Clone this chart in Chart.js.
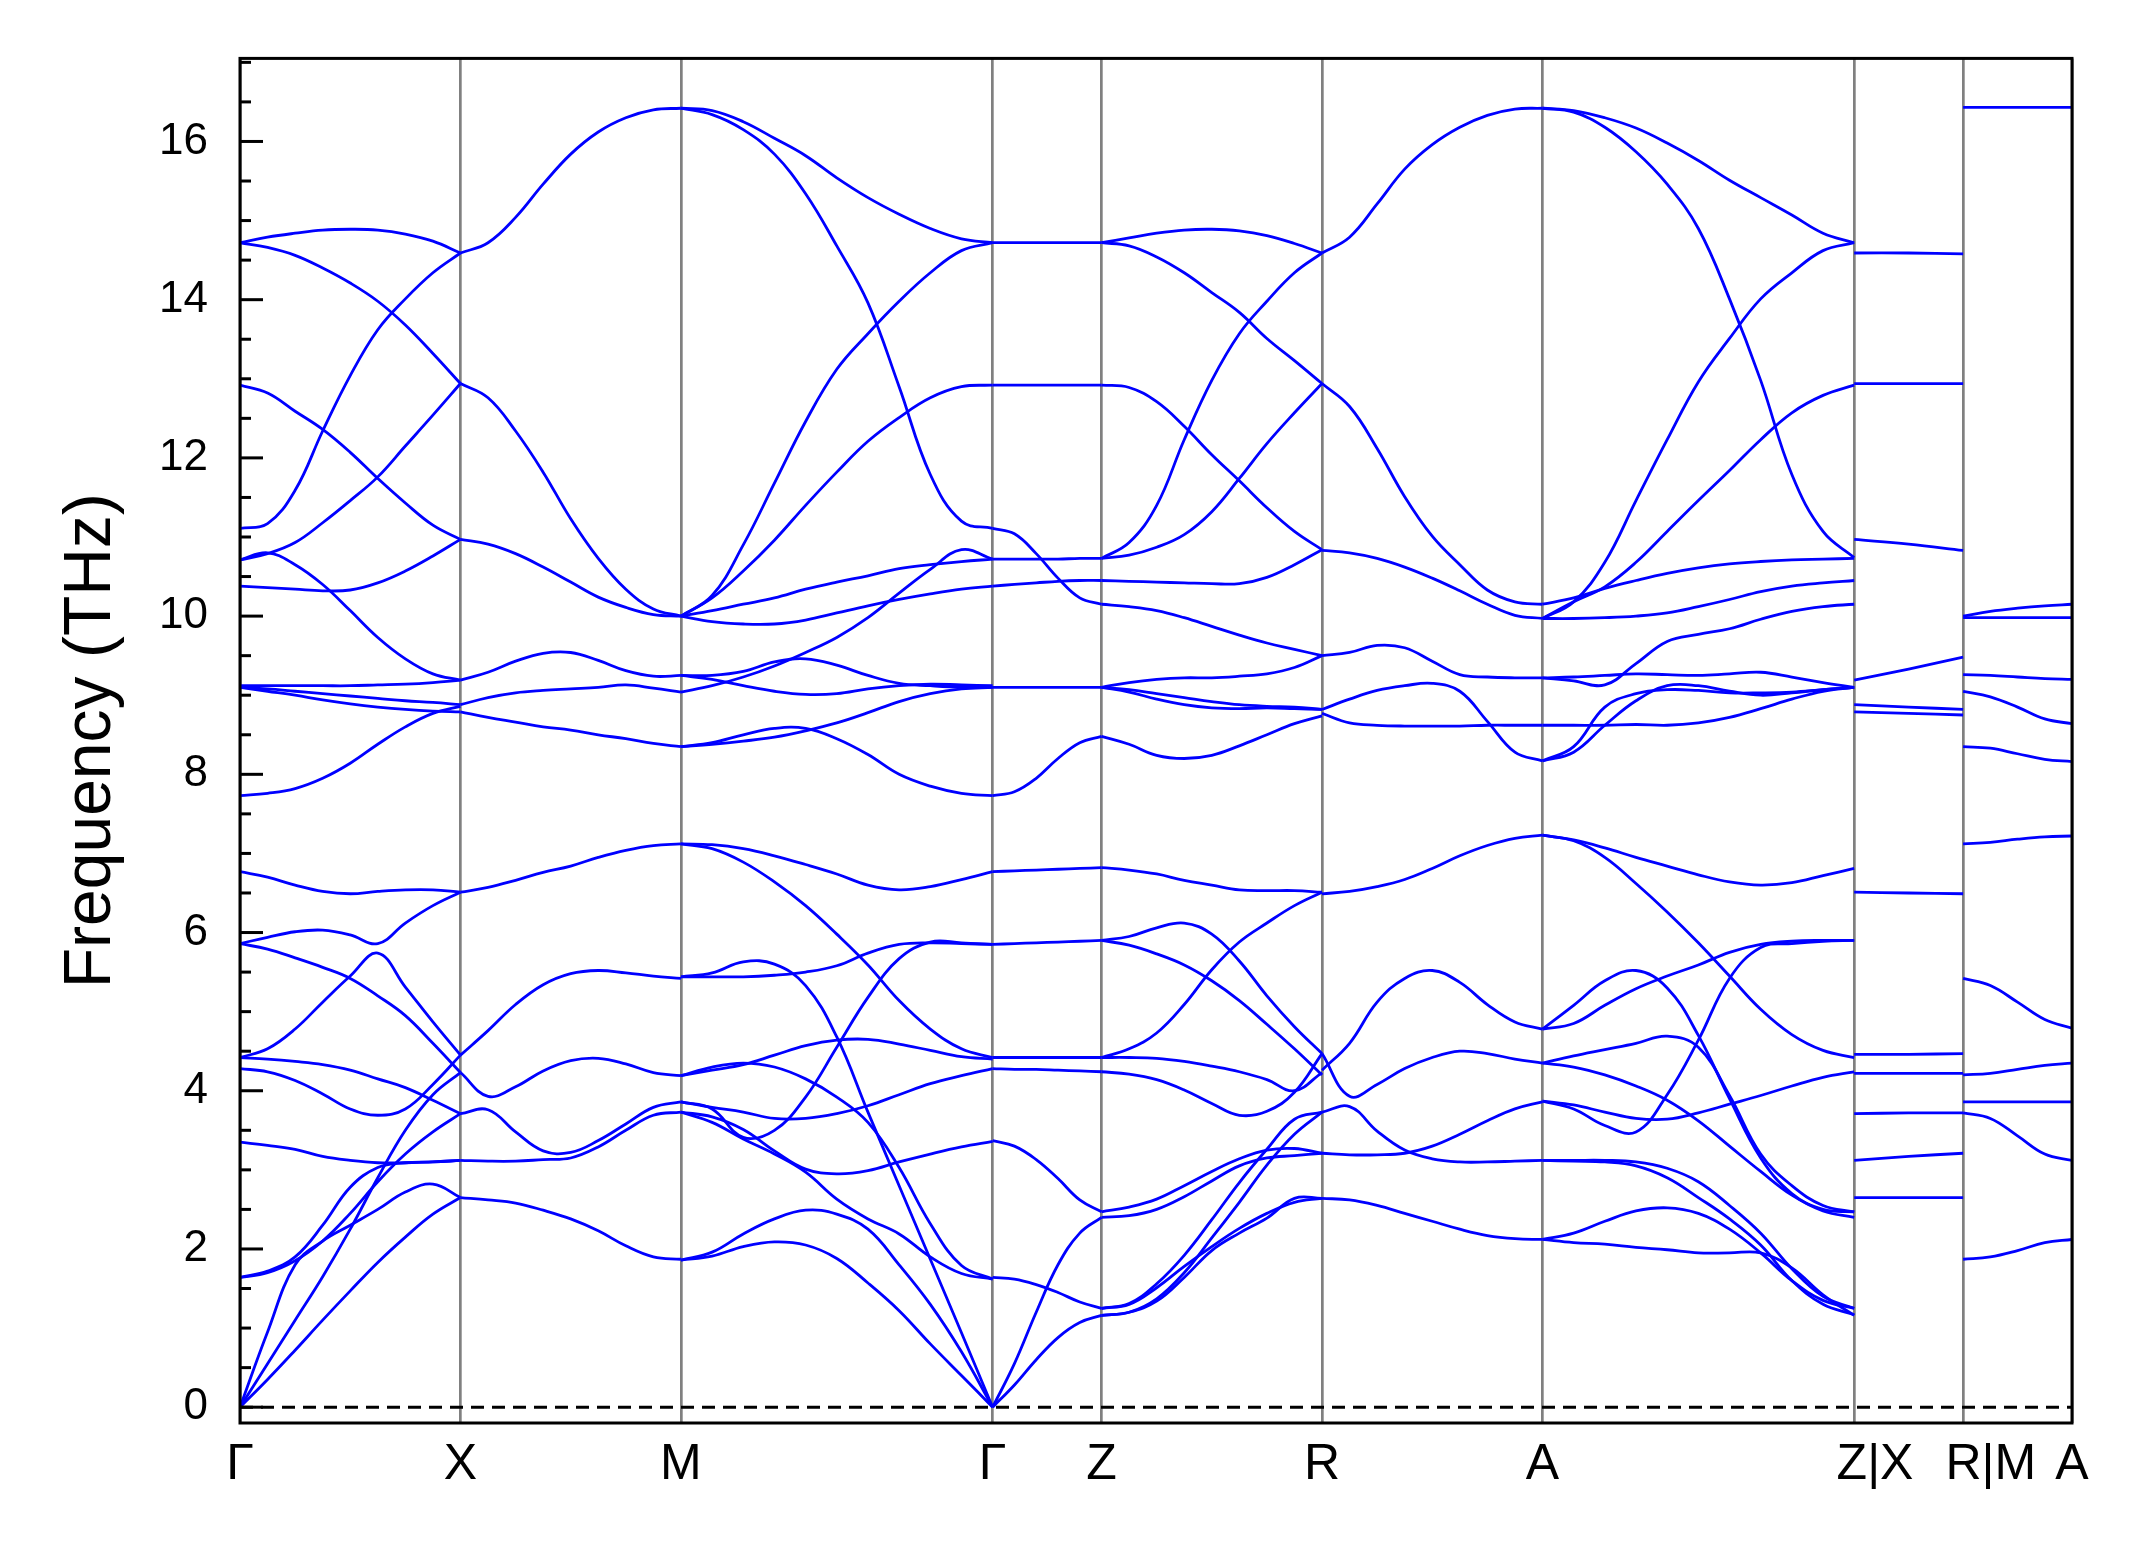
<!DOCTYPE html>
<html lang="en">
<head>
<meta charset="UTF-8">
<title>Phonon band structure</title>
<script src="https://cdn.jsdelivr.net/npm/chart.js"></script>
<style>
  body { margin: 0; background: #fff; }
  canvas { display: block; }
</style>
</head>
<body>
<canvas id="bands" width="2145" height="1549"></canvas>
<script>
// high-symmetry points along the k-path (path length units)
const kLabels = ['Γ', 'X', 'M', 'Γ', 'Z', 'R', 'A', 'Z|X', 'R|M', 'A'];
const kTicks = [0, 1, 2, 3.414, 3.908, 4.908, 5.908, 7.322, 7.816, 8.310];
const kLabelIndent = [0, 0, 0, 0, 0, 0, 0, 3, 4, 0]; // the joined labels sit right of their line
const yLabels = [0, 2, 4, 6, 8, 10, 12, 14, 16];

// frequencies (THz) read along each segment, evenly spaced samples
const bandsGX = [
  [14.72, 14.79, 14.84, 14.88, 14.89, 14.88, 14.83, 14.74, 14.59],
  [14.72, 14.66, 14.56, 14.40, 14.21, 13.98, 13.68, 13.32, 12.94],
  [11.11, 11.17, 11.59, 12.34, 13.04, 13.62, 14.01, 14.34, 14.59],
  [12.92, 12.82, 12.59, 12.36, 12.07, 11.74, 11.43, 11.15, 10.97],
  [10.71, 10.79, 10.93, 11.18, 11.46, 11.76, 12.15, 12.54, 12.94],
  [10.71, 10.80, 10.65, 10.40, 10.07, 9.73, 9.46, 9.27, 9.19],
  [10.38, 10.36, 10.34, 10.32, 10.33, 10.42, 10.57, 10.76, 10.97],
  [9.12, 9.12, 9.12, 9.12, 9.12, 9.13, 9.14, 9.16, 9.19],
  [9.10, 9.08, 9.05, 9.02, 8.99, 8.96, 8.93, 8.91, 8.88],
  [9.10, 9.05, 9.00, 8.94, 8.89, 8.85, 8.82, 8.80, 8.79],
  [7.73, 7.76, 7.82, 7.95, 8.14, 8.38, 8.60, 8.77, 8.86],
  [6.77, 6.70, 6.60, 6.52, 6.49, 6.52, 6.54, 6.54, 6.51],
  [5.86, 5.94, 6.01, 6.03, 5.97, 5.86, 6.12, 6.34, 6.51],
  [4.42, 4.53, 4.78, 5.12, 5.45, 5.74, 5.31, 4.87, 4.45],
  [5.86, 5.79, 5.68, 5.56, 5.42, 5.20, 4.95, 4.60, 4.23],
  [4.42, 4.40, 4.37, 4.33, 4.26, 4.15, 4.04, 3.88, 3.71],
  [4.28, 4.24, 4.13, 3.96, 3.77, 3.69, 3.77, 4.08, 4.45],
  [3.35, 3.31, 3.26, 3.17, 3.12, 3.09, 3.09, 3.10, 3.12],
  [0, 0.95, 1.80, 2.10, 2.30, 2.50, 2.72, 2.82, 2.65],
  [0, 0.35, 0.72, 1.10, 1.47, 1.83, 2.15, 2.44, 2.65],
  [0, 0.55, 1.10, 1.65, 2.25, 2.90, 3.50, 3.95, 4.23],
  [1.64, 1.72, 1.90, 2.30, 2.78, 3.03, 3.09, 3.10, 3.12],
  [1.64, 1.70, 1.85, 2.10, 2.45, 2.85, 3.20, 3.48, 3.71]
];

const bandsXM = [
  [14.59, 14.72, 15.04, 15.46, 15.84, 16.12, 16.30, 16.40, 16.42],
  [12.94, 12.76, 12.34, 11.82, 11.23, 10.73, 10.34, 10.09, 10.00],
  [10.97, 10.91, 10.79, 10.62, 10.43, 10.24, 10.11, 10.02, 10.00],
  [9.19, 9.29, 9.43, 9.53, 9.54, 9.44, 9.31, 9.24, 9.25],
  [8.88, 8.97, 9.03, 9.06, 9.08, 9.10, 9.13, 9.09, 9.04],
  [8.79, 8.72, 8.66, 8.60, 8.56, 8.50, 8.45, 8.39, 8.35],
  [6.51, 6.57, 6.66, 6.76, 6.84, 6.95, 7.04, 7.10, 7.12],
  [4.45, 4.76, 5.09, 5.34, 5.48, 5.52, 5.49, 5.45, 5.42],
  [4.23, 3.93, 4.05, 4.25, 4.38, 4.41, 4.34, 4.23, 4.19],
  [3.71, 3.76, 3.48, 3.24, 3.22, 3.37, 3.58, 3.79, 3.86],
  [3.12, 3.11, 3.11, 3.13, 3.15, 3.29, 3.50, 3.69, 3.73],
  [2.65, 2.62, 2.58, 2.49, 2.38, 2.23, 2.04, 1.90, 1.87]
];

const bandsMG = [
  [16.42, 16.39, 16.25, 16.04, 15.82, 15.54, 15.29, 15.08, 14.90, 14.77, 14.72],
  [16.42, 16.34, 16.15, 15.84, 15.34, 14.68, 13.96, 12.90, 11.79, 11.20, 11.11],
  [10.00, 10.26, 10.90, 11.68, 12.46, 13.12, 13.57, 13.98, 14.34, 14.62, 14.72],
  [10.00, 10.23, 10.57, 10.96, 11.40, 11.82, 12.21, 12.51, 12.76, 12.90, 12.92],
  [10.00, 10.07, 10.15, 10.23, 10.34, 10.43, 10.51, 10.60, 10.65, 10.69, 10.72],
  [10.00, 9.93, 9.90, 9.90, 9.95, 10.04, 10.13, 10.21, 10.28, 10.34, 10.38],
  [9.25, 9.25, 9.30, 9.42, 9.46, 9.38, 9.25, 9.15, 9.12, 9.10, 9.10],
  [9.25, 9.20, 9.12, 9.05, 9.01, 9.02, 9.08, 9.12, 9.14, 9.13, 9.12],
  [9.04, 9.12, 9.23, 9.37, 9.54, 9.73, 9.98, 10.29, 10.59, 10.84, 10.72],
  [8.35, 8.40, 8.50, 8.58, 8.58, 8.45, 8.25, 8.00, 7.85, 7.76, 7.73],
  [8.35, 8.38, 8.42, 8.47, 8.55, 8.65, 8.78, 8.92, 9.02, 9.08, 9.10],
  [7.12, 7.11, 7.06, 6.97, 6.86, 6.74, 6.60, 6.54, 6.58, 6.67, 6.77],
  [7.12, 7.06, 6.89, 6.64, 6.34, 5.98, 5.59, 5.14, 4.78, 4.53, 4.42],
  [5.44, 5.49, 5.63, 5.60, 5.33, 4.68, 3.73, 2.80, 1.87, 0.94, 0],
  [5.44, 5.44, 5.44, 5.46, 5.50, 5.58, 5.74, 5.85, 5.87, 5.86, 5.85],
  [4.19, 4.26, 4.33, 4.45, 4.57, 4.64, 4.65, 4.59, 4.51, 4.43, 4.40],
  [4.19, 4.30, 4.35, 4.30, 4.15, 3.92, 3.60, 3.03, 2.32, 1.79, 1.62],
  [3.73, 3.67, 3.51, 3.24, 3.01, 2.95, 2.99, 3.10, 3.20, 3.29, 3.36],
  [3.86, 3.79, 3.73, 3.65, 3.65, 3.71, 3.81, 3.95, 4.09, 4.19, 4.28],
  [3.86, 3.77, 3.41, 3.50, 3.92, 4.55, 5.18, 5.67, 5.88, 5.87, 5.85],
  [1.86, 1.96, 2.19, 2.38, 2.49, 2.44, 2.25, 1.80, 1.30, 0.70, 0],
  [1.86, 1.91, 2.03, 2.09, 2.05, 1.88, 1.57, 1.22, 0.80, 0.40, 0],
  [3.73, 3.60, 3.39, 3.20, 2.97, 2.63, 2.38, 2.19, 1.90, 1.69, 1.62]
];

const bandsGZ = [
  [14.72, 14.72, 14.72, 14.72, 14.72, 14.72],
  [12.92, 12.92, 12.92, 12.92, 12.92, 12.92],
  [11.11, 11.04, 10.79, 10.48, 10.23, 10.15],
  [10.72, 10.72, 10.72, 10.72, 10.73, 10.73],
  [10.38, 10.40, 10.42, 10.44, 10.45, 10.45],
  [9.10, 9.10, 9.10, 9.10, 9.10, 9.10],
  [7.73, 7.78, 7.95, 8.20, 8.40, 8.48],
  [6.77, 6.78, 6.79, 6.80, 6.81, 6.82],
  [5.85, 5.86, 5.87, 5.88, 5.89, 5.90],
  [4.42, 4.42, 4.42, 4.42, 4.42, 4.42],
  [4.28, 4.27, 4.27, 4.26, 4.25, 4.24],
  [3.37, 3.30, 3.13, 2.89, 2.62, 2.47],
  [1.64, 1.62, 1.55, 1.45, 1.33, 1.25],
  [0, 0.55, 1.20, 1.80, 2.20, 2.40],
  [0, 0.28, 0.60, 0.88, 1.07, 1.16]
];

const bandsZR = [
  [14.72, 14.78, 14.84, 14.88, 14.89, 14.87, 14.81, 14.71, 14.59],
  [14.72, 14.68, 14.54, 14.34, 14.09, 13.84, 13.51, 13.23, 12.94],
  [10.73, 10.93, 11.40, 12.23, 12.98, 13.57, 13.98, 14.34, 14.59],
  [12.92, 12.89, 12.71, 12.40, 12.04, 11.71, 11.37, 11.07, 10.84],
  [10.73, 10.77, 10.87, 11.03, 11.32, 11.74, 12.18, 12.57, 12.94],
  [10.45, 10.44, 10.43, 10.42, 10.41, 10.41, 10.49, 10.65, 10.84],
  [10.15, 10.12, 10.07, 9.98, 9.87, 9.76, 9.66, 9.58, 9.50],
  [9.10, 9.16, 9.20, 9.22, 9.22, 9.24, 9.27, 9.35, 9.50],
  [9.10, 9.07, 9.02, 8.97, 8.92, 8.88, 8.86, 8.85, 8.82],
  [9.10, 9.04, 8.95, 8.88, 8.84, 8.83, 8.84, 8.83, 8.82],
  [8.48, 8.38, 8.24, 8.20, 8.24, 8.36, 8.50, 8.64, 8.74],
  [6.82, 6.79, 6.74, 6.66, 6.60, 6.54, 6.53, 6.53, 6.51],
  [5.90, 5.95, 6.06, 6.12, 5.98, 5.64, 5.20, 4.81, 4.47],
  [5.90, 5.84, 5.73, 5.59, 5.39, 5.14, 4.84, 4.53, 4.20],
  [4.42, 4.53, 4.73, 5.09, 5.53, 5.88, 6.12, 6.34, 6.51],
  [4.42, 4.42, 4.41, 4.37, 4.31, 4.24, 4.14, 4.00, 4.23],
  [4.24, 4.21, 4.14, 4.01, 3.84, 3.69, 3.74, 3.98, 4.47],
  [2.47, 2.53, 2.63, 2.80, 2.98, 3.14, 3.25, 3.27, 3.21],
  [2.40, 2.42, 2.50, 2.66, 2.86, 3.05, 3.15, 3.18, 3.21],
  [1.25, 1.31, 1.56, 1.92, 2.37, 2.84, 3.26, 3.64, 3.73],
  [1.16, 1.20, 1.37, 1.70, 2.14, 2.59, 3.06, 3.45, 3.73],
  [1.16, 1.20, 1.34, 1.64, 1.98, 2.20, 2.39, 2.64, 2.64],
  [1.25, 1.30, 1.51, 1.78, 2.03, 2.26, 2.45, 2.59, 2.64]
];

const bandsRA = [
  [14.59, 14.79, 15.21, 15.65, 15.96, 16.18, 16.33, 16.41, 16.42],
  [12.94, 12.65, 12.12, 11.51, 11.01, 10.65, 10.33, 10.18, 10.15],
  [10.83, 10.80, 10.73, 10.62, 10.48, 10.32, 10.15, 10.01, 9.97],
  [9.50, 9.54, 9.63, 9.60, 9.43, 9.26, 9.23, 9.22, 9.22],
  [8.82, 8.95, 9.06, 9.12, 9.15, 9.05, 8.67, 8.28, 8.17],
  [8.77, 8.65, 8.62, 8.61, 8.61, 8.61, 8.62, 8.62, 8.62],
  [6.49, 6.52, 6.58, 6.67, 6.81, 6.97, 7.10, 7.19, 7.23],
  [4.26, 4.60, 5.12, 5.42, 5.52, 5.37, 5.09, 4.87, 4.78],
  [4.47, 3.93, 4.08, 4.28, 4.42, 4.50, 4.47, 4.40, 4.35],
  [3.73, 3.80, 3.49, 3.25, 3.14, 3.10, 3.10, 3.11, 3.12],
  [3.21, 3.19, 3.19, 3.21, 3.30, 3.45, 3.62, 3.77, 3.86],
  [2.64, 2.62, 2.55, 2.45, 2.35, 2.25, 2.17, 2.13, 2.12]
];

const bandsAZ = [
  [16.42, 16.39, 16.30, 16.17, 15.98, 15.76, 15.51, 15.29, 15.07, 14.84, 14.72],
  [16.42, 16.37, 16.18, 15.87, 15.46, 14.90, 14.01, 12.98, 11.79, 11.07, 10.74],
  [9.97, 10.18, 10.68, 11.46, 12.23, 12.96, 13.51, 14.01, 14.34, 14.62, 14.72],
  [9.97, 10.18, 10.37, 10.68, 11.07, 11.46, 11.84, 12.23, 12.57, 12.79, 12.92],
  [10.15, 10.23, 10.35, 10.45, 10.54, 10.61, 10.66, 10.69, 10.71, 10.72, 10.73],
  [9.97, 9.97, 9.98, 10.00, 10.04, 10.12, 10.21, 10.31, 10.38, 10.42, 10.45],
  [9.22, 9.18, 9.13, 9.40, 9.68, 9.77, 9.84, 9.96, 10.06, 10.12, 10.15],
  [9.22, 9.23, 9.25, 9.27, 9.26, 9.25, 9.27, 9.29, 9.23, 9.16, 9.10],
  [8.62, 8.62, 8.62, 8.63, 8.62, 8.65, 8.72, 8.83, 8.95, 9.05, 9.10],
  [8.17, 8.35, 8.85, 9.02, 9.07, 9.06, 9.03, 9.03, 9.04, 9.07, 9.10],
  [8.17, 8.28, 8.62, 8.93, 9.12, 9.12, 9.05, 9.00, 9.03, 9.07, 9.10],
  [7.23, 7.17, 7.07, 6.95, 6.84, 6.73, 6.64, 6.60, 6.63, 6.72, 6.81],
  [7.23, 7.16, 6.95, 6.62, 6.26, 5.87, 5.45, 5.03, 4.71, 4.51, 4.42],
  [4.78, 5.08, 5.39, 5.52, 5.30, 4.70, 3.90, 3.15, 2.70, 2.50, 2.47],
  [4.78, 4.85, 5.08, 5.29, 5.45, 5.59, 5.75, 5.85, 5.89, 5.90, 5.90],
  [4.35, 4.44, 4.52, 4.60, 4.69, 4.55, 3.94, 3.20, 2.80, 2.55, 2.47],
  [4.35, 4.30, 4.20, 4.06, 3.88, 3.62, 3.30, 2.98, 2.68, 2.48, 2.40],
  [3.87, 3.77, 3.56, 3.48, 3.95, 4.64, 5.42, 5.81, 5.86, 5.89, 5.90],
  [3.87, 3.82, 3.73, 3.65, 3.64, 3.72, 3.83, 3.94, 4.06, 4.17, 4.24],
  [3.12, 3.12, 3.12, 3.10, 3.02, 2.85, 2.55, 2.20, 1.75, 1.40, 1.25],
  [3.12, 3.11, 3.10, 3.05, 2.90, 2.65, 2.38, 2.05, 1.60, 1.30, 1.17],
  [2.12, 2.20, 2.35, 2.48, 2.52, 2.45, 2.25, 1.95, 1.60, 1.35, 1.25],
  [2.12, 2.08, 2.06, 2.02, 1.99, 1.95, 1.95, 1.95, 1.76, 1.42, 1.16]
];

const bandsXR = [
  [14.59, 14.59, 14.58],
  [12.94, 12.94, 12.94],
  [10.97, 10.91, 10.83],
  [9.19, 9.33, 9.48],
  [8.88, 8.85, 8.82],
  [8.79, 8.77, 8.75],
  [6.51, 6.50, 6.49],
  [4.46, 4.46, 4.47],
  [4.22, 4.22, 4.22],
  [3.71, 3.72, 3.72],
  [3.12, 3.17, 3.21],
  [2.65, 2.65, 2.65]
];

const bandsMA = [
  [16.43, 16.43, 16.43, 16.43, 16.43],
  [10.00, 10.06, 10.10, 10.13, 10.15],
  [9.98, 9.98, 9.98, 9.98, 9.98],
  [9.26, 9.25, 9.23, 9.21, 9.20],
  [9.05, 8.98, 8.85, 8.70, 8.64],
  [8.35, 8.33, 8.26, 8.19, 8.16],
  [7.12, 7.14, 7.18, 7.21, 7.22],
  [5.42, 5.33, 5.12, 4.90, 4.79],
  [4.20, 4.22, 4.27, 4.32, 4.35],
  [3.86, 3.86, 3.86, 3.86, 3.86],
  [3.72, 3.65, 3.43, 3.20, 3.12],
  [1.87, 1.90, 1.98, 2.08, 2.12]
];

// segment -> [start tick index, end tick index, bands]
const segments = [
  [0, 1, bandsGX], [1, 2, bandsXM], [2, 3, bandsMG], [3, 4, bandsGZ],
  [4, 5, bandsZR], [5, 6, bandsRA], [6, 7, bandsAZ], [7, 8, bandsXR], [8, 9, bandsMA]
];

const datasets = [];
datasets.push({
  data: [{x: kTicks[0], y: 0}, {x: kTicks[kTicks.length - 1], y: 0}],
  borderColor: '#000', borderWidth: 3, borderDash: [13, 8], tension: 0
});
segments.forEach(([a, b, bands]) => {
  const k0 = kTicks[a], k1 = kTicks[b];
  bands.forEach(band => {
    const n = band.length;
    datasets.push({
      data: band.map((f, i) => ({x: k0 + (k1 - k0) * i / (n - 1), y: f})),
      borderColor: '#0000ff',
      borderWidth: 2.8,
      tension: 0.4
    });
  });
});

// black frame + inward ticks on the left axis
const framePlugin = {
  id: 'frame',
  afterDatasetsDraw(chart) {
    const {ctx, chartArea: area, scales: {y}} = chart;
    ctx.save();
    ctx.strokeStyle = '#000';
    ctx.lineWidth = 3;
    for (let v = 0; v <= 17; v += 0.5) {
      const py = y.getPixelForValue(v);
      const len = v % 2 === 0 ? 23 : 11;
      ctx.beginPath();
      ctx.moveTo(area.left, py);
      ctx.lineTo(area.left + len, py);
      ctx.stroke();
    }
    ctx.strokeRect(area.left, area.top, area.right - area.left, area.bottom - area.top);
    ctx.restore();
  }
};

const fontFamily = '"Liberation Sans", Arial, sans-serif';

new Chart(document.getElementById('bands'), {
  type: 'line',
  data: {datasets},
  options: {
    responsive: false,
    devicePixelRatio: 1,
    animation: false,
    events: [],
    layout: {padding: {left: 0, right: 73, top: 58, bottom: 0}},
    elements: {point: {radius: 0}},
    plugins: {legend: {display: false}, tooltip: {enabled: false}},
    scales: {
      x: {
        type: 'linear',
        min: kTicks[0],
        max: kTicks[kTicks.length - 1],
        afterBuildTicks: s => { s.ticks = kTicks.map(v => ({value: v})); },
        afterFit: s => { s.height = 126; },
        grid: {color: '#808080', lineWidth: 2.7, drawTicks: false},
        border: {display: false},
        ticks: {
          autoSkip: false, maxRotation: 0, padding: 12, color: '#000',
          font: {family: fontFamily, size: 50},
          callback: (v, i) => ' '.repeat(kLabelIndent[i]) + kLabels[i]
        }
      },
      y: {
        type: 'linear',
        min: -0.2,
        max: 17.05,
        afterBuildTicks: s => { s.ticks = yLabels.map(v => ({value: v})); },
        afterFit: s => { s.width = 240; },
        grid: {display: false, drawTicks: false},
        border: {display: false},
        ticks: {padding: 32, color: '#000', font: {family: fontFamily, size: 44}},
        title: {
          display: true, text: 'Frequency (THz)', color: '#000',
          font: {family: fontFamily, size: 66},
          padding: {top: 52, bottom: 0}
        }
      }
    }
  },
  plugins: [framePlugin]
});
</script>
</body>
</html>
